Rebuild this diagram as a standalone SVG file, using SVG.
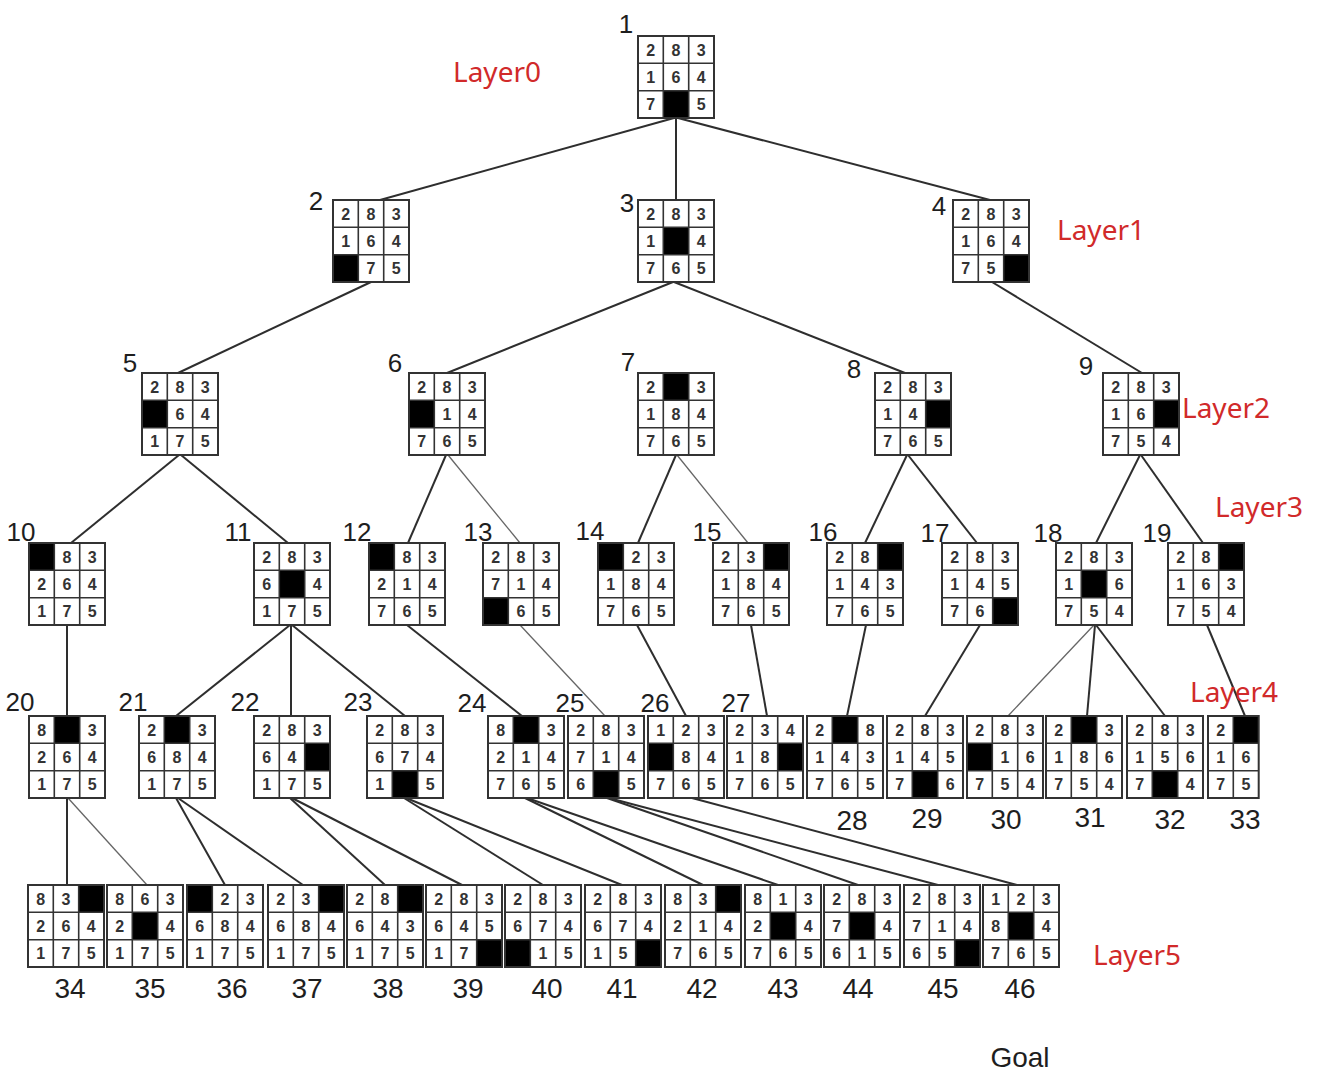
<svg xmlns="http://www.w3.org/2000/svg" xmlns:xlink="http://www.w3.org/1999/xlink" width="1334" height="1080" viewBox="0 0 1334 1080">
  <style>
    .t { font: bold 16px "Liberation Sans", Arial, sans-serif; fill: #333; text-anchor: middle; }
    .lb { font: 26px "Liberation Sans", Arial, sans-serif; fill: #1e1e1e; text-anchor: middle; }
    .lbb { font: 28px "Liberation Sans", Arial, sans-serif; fill: #1e1e1e; text-anchor: middle; }
    .ly { font: 28px "Noto Sans", "Liberation Sans", sans-serif; fill: #d12a2a; text-anchor: middle; }
    .bk { fill: #000; }
    .e { fill: none; stroke: #2e2e2e; stroke-width: 2; }
    .e2 { fill: none; stroke: #666; stroke-width: 1.3; }
  </style>
  <defs>
    <!-- 3x3 puzzle board frame -->
    <g id="grid" fill="none" stroke="#333">
      <rect x="0" y="0" width="76" height="82" stroke-width="2"/>
      <path d="M25.3 0V82M50.7 0V82M0 27.3H76M0 54.7H76" stroke-width="1.6"/>
    </g>
    <!-- narrow 2-column board frame -->
    <g id="grid2" fill="none" stroke="#333">
      <rect x="0" y="0" width="50.7" height="82" stroke-width="2"/>
      <path d="M25.3 0V82M0 27.3H50.7M0 54.7H50.7" stroke-width="1.6"/>
    </g>
  </defs>
  <rect width="1334" height="1080" fill="#fff"/>

  <!-- tree edges -->
  <g id="connectors">
    <path class="e" d="M674 118L380 200"/>
    <path class="e" d="M676 118V200"/>
    <path class="e" d="M678 118L990 200"/>
    <path class="e" d="M371 282L178 373"/>
    <path class="e" d="M673 282L447 373"/>
    <path class="e" d="M674 282L905 373"/>
    <path class="e" d="M992 282L1142 373"/>
    <path class="e" d="M179 455L71 543"/>
    <path class="e" d="M181 455L288 543"/>
    <path class="e" d="M446 455L408 543"/>
    <path class="e2" d="M448 455L520 543"/>
    <path class="e" d="M676 455L638 543"/>
    <path class="e2" d="M677 455L748 543"/>
    <path class="e" d="M907 455L865 543"/>
    <path class="e" d="M908 455L977 543"/>
    <path class="e" d="M1140 455L1096 543"/>
    <path class="e" d="M1141 455L1203 543"/>
    <path class="e" d="M67 625V716"/>
    <path class="e" d="M290 625L176 716"/>
    <path class="e" d="M291 625V716"/>
    <path class="e" d="M292 625L405 716"/>
    <path class="e" d="M407 625L522 716"/>
    <path class="e2" d="M520 625L605 716"/>
    <path class="e" d="M637 625L686 716"/>
    <path class="e" d="M751 625L767 716"/>
    <path class="e" d="M866 625L847 716"/>
    <path class="e" d="M980 625L925 716"/>
    <path class="e2" d="M1094 625L1008 716"/>
    <path class="e" d="M1095 625L1087 716"/>
    <path class="e" d="M1096 625L1165 716"/>
    <path class="e" d="M1207 625L1245 716"/>
    <path class="e" d="M67 798V885"/>
    <path class="e2" d="M68 798L147 885"/>
    <path class="e" d="M176 798L225 885"/>
    <path class="e" d="M178 798L303 885"/>
    <path class="e" d="M290 798L385 885"/>
    <path class="e" d="M292 798L462 885"/>
    <path class="e" d="M404 798L543 885"/>
    <path class="e" d="M406 798L622 885"/>
    <path class="e" d="M525 798L703 885"/>
    <path class="e" d="M527 798L778 885"/>
    <path class="e" d="M607 798L858 885"/>
    <path class="e" d="M609 798L938 885"/>
    <path class="e" d="M692 798L1017 885"/>
  </g>

  <!-- layer captions -->
  <g id="layers">
    <text class="ly" x="497" y="82">Layer0</text>
    <text class="ly" x="1101" y="240">Layer1</text>
    <text class="ly" x="1226" y="418">Layer2</text>
    <text class="ly" x="1259" y="517">Layer3</text>
    <text class="ly" x="1234" y="702">Layer4</text>
    <text class="ly" x="1137" y="965">Layer5</text>
  </g>

  <!-- level 0 -->
  <g id="n1" transform="translate(638,36)">
    <text class="lb" x="-12" y="-3">1</text>
    <rect class="bk" x="25.3" y="54.7" width="25.4" height="27.3"/>
    <text class="t" x="12.7 38 63.3" y="19.5">283</text>
    <text class="t" x="12.7 38 63.3" y="46.8">164</text>
    <text class="t" x="12.7 63.3" y="74.1">75</text>
    <use xlink:href="#grid"/>
  </g>

  <!-- level 1 -->
  <g id="n2" transform="translate(333,200)">
    <text class="lb" x="-17" y="10">2</text>
    <rect class="bk" x="0" y="54.7" width="25.4" height="27.3"/>
    <text class="t" x="12.7 38 63.3" y="19.5">283</text>
    <text class="t" x="12.7 38 63.3" y="46.8">164</text>
    <text class="t" x="38 63.3" y="74.1">75</text>
    <use xlink:href="#grid"/>
  </g>
  <g id="n3" transform="translate(638,200)">
    <text class="lb" x="-11" y="12">3</text>
    <rect class="bk" x="25.3" y="27.3" width="25.4" height="27.4"/>
    <text class="t" x="12.7 38 63.3" y="19.5">283</text>
    <text class="t" x="12.7 63.3" y="46.8">14</text>
    <text class="t" x="12.7 38 63.3" y="74.1">765</text>
    <use xlink:href="#grid"/>
  </g>
  <g id="n4" transform="translate(953,200)">
    <text class="lb" x="-14" y="15">4</text>
    <rect class="bk" x="50.7" y="54.7" width="25.3" height="27.3"/>
    <text class="t" x="12.7 38 63.3" y="19.5">283</text>
    <text class="t" x="12.7 38 63.3" y="46.8">164</text>
    <text class="t" x="12.7 38" y="74.1">75</text>
    <use xlink:href="#grid"/>
  </g>

  <!-- level 2 -->
  <g id="n5" transform="translate(142,373)">
    <text class="lb" x="-12" y="-1">5</text>
    <rect class="bk" x="0" y="27.3" width="25.4" height="27.4"/>
    <text class="t" x="12.7 38 63.3" y="19.5">283</text>
    <text class="t" x="38 63.3" y="46.8">64</text>
    <text class="t" x="12.7 38 63.3" y="74.1">175</text>
    <use xlink:href="#grid"/>
  </g>
  <g id="n6" transform="translate(409,373)">
    <text class="lb" x="-14" y="-1">6</text>
    <rect class="bk" x="0" y="27.3" width="25.4" height="27.4"/>
    <text class="t" x="12.7 38 63.3" y="19.5">283</text>
    <text class="t" x="38 63.3" y="46.8">14</text>
    <text class="t" x="12.7 38 63.3" y="74.1">765</text>
    <use xlink:href="#grid"/>
  </g>
  <g id="n7" transform="translate(638,373)">
    <text class="lb" x="-10" y="-2">7</text>
    <rect class="bk" x="25.3" y="0" width="25.4" height="27.3"/>
    <text class="t" x="12.7 63.3" y="19.5">23</text>
    <text class="t" x="12.7 38 63.3" y="46.8">184</text>
    <text class="t" x="12.7 38 63.3" y="74.1">765</text>
    <use xlink:href="#grid"/>
  </g>
  <g id="n8" transform="translate(875,373)">
    <text class="lb" x="-21" y="5">8</text>
    <rect class="bk" x="50.7" y="27.3" width="25.3" height="27.4"/>
    <text class="t" x="12.7 38 63.3" y="19.5">283</text>
    <text class="t" x="12.7 38" y="46.8">14</text>
    <text class="t" x="12.7 38 63.3" y="74.1">765</text>
    <use xlink:href="#grid"/>
  </g>
  <g id="n9" transform="translate(1103,373)">
    <text class="lb" x="-17" y="2">9</text>
    <rect class="bk" x="50.7" y="27.3" width="25.3" height="27.4"/>
    <text class="t" x="12.7 38 63.3" y="19.5">283</text>
    <text class="t" x="12.7 38" y="46.8">16</text>
    <text class="t" x="12.7 38 63.3" y="74.1">754</text>
    <use xlink:href="#grid"/>
  </g>

  <!-- level 3 -->
  <g id="n10" transform="translate(29,543)">
    <text class="lb" x="-8" y="-2">10</text>
    <rect class="bk" x="0" y="0" width="25.4" height="27.3"/>
    <text class="t" x="38 63.3" y="19.5">83</text>
    <text class="t" x="12.7 38 63.3" y="46.8">264</text>
    <text class="t" x="12.7 38 63.3" y="74.1">175</text>
    <use xlink:href="#grid"/>
  </g>
  <g id="n11" transform="translate(254,543)">
    <text class="lb" x="-16" y="-2">11</text>
    <rect class="bk" x="25.3" y="27.3" width="25.4" height="27.4"/>
    <text class="t" x="12.7 38 63.3" y="19.5">283</text>
    <text class="t" x="12.7 63.3" y="46.8">64</text>
    <text class="t" x="12.7 38 63.3" y="74.1">175</text>
    <use xlink:href="#grid"/>
  </g>
  <g id="n12" transform="translate(369,543)">
    <text class="lb" x="-12" y="-2">12</text>
    <rect class="bk" x="0" y="0" width="25.4" height="27.3"/>
    <text class="t" x="38 63.3" y="19.5">83</text>
    <text class="t" x="12.7 38 63.3" y="46.8">214</text>
    <text class="t" x="12.7 38 63.3" y="74.1">765</text>
    <use xlink:href="#grid"/>
  </g>
  <g id="n13" transform="translate(483,543)">
    <text class="lb" x="-5" y="-2">13</text>
    <rect class="bk" x="0" y="54.7" width="25.4" height="27.3"/>
    <text class="t" x="12.7 38 63.3" y="19.5">283</text>
    <text class="t" x="12.7 38 63.3" y="46.8">714</text>
    <text class="t" x="38 63.3" y="74.1">65</text>
    <use xlink:href="#grid"/>
  </g>
  <g id="n14" transform="translate(598,543)">
    <text class="lb" x="-8" y="-3">14</text>
    <rect class="bk" x="0" y="0" width="25.4" height="27.3"/>
    <text class="t" x="38 63.3" y="19.5">23</text>
    <text class="t" x="12.7 38 63.3" y="46.8">184</text>
    <text class="t" x="12.7 38 63.3" y="74.1">765</text>
    <use xlink:href="#grid"/>
  </g>
  <g id="n15" transform="translate(713,543)">
    <text class="lb" x="-6" y="-2">15</text>
    <rect class="bk" x="50.7" y="0" width="25.3" height="27.3"/>
    <text class="t" x="12.7 38" y="19.5">23</text>
    <text class="t" x="12.7 38 63.3" y="46.8">184</text>
    <text class="t" x="12.7 38 63.3" y="74.1">765</text>
    <use xlink:href="#grid"/>
  </g>
  <g id="n16" transform="translate(827,543)">
    <text class="lb" x="-4" y="-2">16</text>
    <rect class="bk" x="50.7" y="0" width="25.3" height="27.3"/>
    <text class="t" x="12.7 38" y="19.5">28</text>
    <text class="t" x="12.7 38 63.3" y="46.8">143</text>
    <text class="t" x="12.7 38 63.3" y="74.1">765</text>
    <use xlink:href="#grid"/>
  </g>
  <g id="n17" transform="translate(942,543)">
    <text class="lb" x="-7" y="-1">17</text>
    <rect class="bk" x="50.7" y="54.7" width="25.3" height="27.3"/>
    <text class="t" x="12.7 38 63.3" y="19.5">283</text>
    <text class="t" x="12.7 38 63.3" y="46.8">145</text>
    <text class="t" x="12.7 38" y="74.1">76</text>
    <use xlink:href="#grid"/>
  </g>
  <g id="n18" transform="translate(1056,543)">
    <text class="lb" x="-8" y="-1">18</text>
    <rect class="bk" x="25.3" y="27.3" width="25.4" height="27.4"/>
    <text class="t" x="12.7 38 63.3" y="19.5">283</text>
    <text class="t" x="12.7 63.3" y="46.8">16</text>
    <text class="t" x="12.7 38 63.3" y="74.1">754</text>
    <use xlink:href="#grid"/>
  </g>
  <g id="n19" transform="translate(1168,543)">
    <text class="lb" x="-11" y="-1">19</text>
    <rect class="bk" x="50.7" y="0" width="25.3" height="27.3"/>
    <text class="t" x="12.7 38" y="19.5">28</text>
    <text class="t" x="12.7 38 63.3" y="46.8">163</text>
    <text class="t" x="12.7 38 63.3" y="74.1">754</text>
    <use xlink:href="#grid"/>
  </g>

  <!-- level 4 -->
  <g id="n20" transform="translate(29,716)">
    <text class="lb" x="-9" y="-5">20</text>
    <rect class="bk" x="25.3" y="0" width="25.4" height="27.3"/>
    <text class="t" x="12.7 63.3" y="19.5">83</text>
    <text class="t" x="12.7 38 63.3" y="46.8">264</text>
    <text class="t" x="12.7 38 63.3" y="74.1">175</text>
    <use xlink:href="#grid"/>
  </g>
  <g id="n21" transform="translate(139,716)">
    <text class="lb" x="-6" y="-5">21</text>
    <rect class="bk" x="25.3" y="0" width="25.4" height="27.3"/>
    <text class="t" x="12.7 63.3" y="19.5">23</text>
    <text class="t" x="12.7 38 63.3" y="46.8">684</text>
    <text class="t" x="12.7 38 63.3" y="74.1">175</text>
    <use xlink:href="#grid"/>
  </g>
  <g id="n22" transform="translate(254,716)">
    <text class="lb" x="-9" y="-5">22</text>
    <rect class="bk" x="50.7" y="27.3" width="25.3" height="27.4"/>
    <text class="t" x="12.7 38 63.3" y="19.5">283</text>
    <text class="t" x="12.7 38" y="46.8">64</text>
    <text class="t" x="12.7 38 63.3" y="74.1">175</text>
    <use xlink:href="#grid"/>
  </g>
  <g id="n23" transform="translate(367,716)">
    <text class="lb" x="-9" y="-5">23</text>
    <rect class="bk" x="25.3" y="54.7" width="25.4" height="27.3"/>
    <text class="t" x="12.7 38 63.3" y="19.5">283</text>
    <text class="t" x="12.7 38 63.3" y="46.8">674</text>
    <text class="t" x="12.7 63.3" y="74.1">15</text>
    <use xlink:href="#grid"/>
  </g>
  <g id="n24" transform="translate(488,716)">
    <text class="lb" x="-16" y="-4">24</text>
    <rect class="bk" x="25.3" y="0" width="25.4" height="27.3"/>
    <text class="t" x="12.7 63.3" y="19.5">83</text>
    <text class="t" x="12.7 38 63.3" y="46.8">214</text>
    <text class="t" x="12.7 38 63.3" y="74.1">765</text>
    <use xlink:href="#grid"/>
  </g>
  <g id="n25" transform="translate(568,716)">
    <text class="lb" x="2" y="-4">25</text>
    <rect class="bk" x="25.3" y="54.7" width="25.4" height="27.3"/>
    <text class="t" x="12.7 38 63.3" y="19.5">283</text>
    <text class="t" x="12.7 38 63.3" y="46.8">714</text>
    <text class="t" x="12.7 63.3" y="74.1">65</text>
    <use xlink:href="#grid"/>
  </g>
  <g id="n26" transform="translate(648,716)">
    <text class="lb" x="7" y="-4">26</text>
    <rect class="bk" x="0" y="27.3" width="25.4" height="27.4"/>
    <text class="t" x="12.7 38 63.3" y="19.5">123</text>
    <text class="t" x="38 63.3" y="46.8">84</text>
    <text class="t" x="12.7 38 63.3" y="74.1">765</text>
    <use xlink:href="#grid"/>
  </g>
  <g id="n27" transform="translate(727,716)">
    <text class="lb" x="9" y="-4">27</text>
    <rect class="bk" x="50.7" y="27.3" width="25.3" height="27.4"/>
    <text class="t" x="12.7 38 63.3" y="19.5">234</text>
    <text class="t" x="12.7 38" y="46.8">18</text>
    <text class="t" x="12.7 38 63.3" y="74.1">765</text>
    <use xlink:href="#grid"/>
  </g>
  <g id="n28" transform="translate(807,716)">
    <text class="lbb" x="45" y="114">28</text>
    <rect class="bk" x="25.3" y="0" width="25.4" height="27.3"/>
    <text class="t" x="12.7 63.3" y="19.5">28</text>
    <text class="t" x="12.7 38 63.3" y="46.8">143</text>
    <text class="t" x="12.7 38 63.3" y="74.1">765</text>
    <use xlink:href="#grid"/>
  </g>
  <g id="n29" transform="translate(887,716)">
    <text class="lbb" x="40" y="112">29</text>
    <rect class="bk" x="25.3" y="54.7" width="25.4" height="27.3"/>
    <text class="t" x="12.7 38 63.3" y="19.5">283</text>
    <text class="t" x="12.7 38 63.3" y="46.8">145</text>
    <text class="t" x="12.7 63.3" y="74.1">76</text>
    <use xlink:href="#grid"/>
  </g>
  <g id="n30" transform="translate(967,716)">
    <text class="lbb" x="39" y="113">30</text>
    <rect class="bk" x="0" y="27.3" width="25.4" height="27.4"/>
    <text class="t" x="12.7 38 63.3" y="19.5">283</text>
    <text class="t" x="38 63.3" y="46.8">16</text>
    <text class="t" x="12.7 38 63.3" y="74.1">754</text>
    <use xlink:href="#grid"/>
  </g>
  <g id="n31" transform="translate(1046,716)">
    <text class="lbb" x="44" y="111">31</text>
    <rect class="bk" x="25.3" y="0" width="25.4" height="27.3"/>
    <text class="t" x="12.7 63.3" y="19.5">23</text>
    <text class="t" x="12.7 38 63.3" y="46.8">186</text>
    <text class="t" x="12.7 38 63.3" y="74.1">754</text>
    <use xlink:href="#grid"/>
  </g>
  <g id="n32" transform="translate(1127,716)">
    <text class="lbb" x="43" y="113">32</text>
    <rect class="bk" x="25.3" y="54.7" width="25.4" height="27.3"/>
    <text class="t" x="12.7 38 63.3" y="19.5">283</text>
    <text class="t" x="12.7 38 63.3" y="46.8">156</text>
    <text class="t" x="12.7 63.3" y="74.1">74</text>
    <use xlink:href="#grid"/>
  </g>
  <g id="n33" transform="translate(1208,716)">
    <text class="lbb" x="37" y="113">33</text>
    <rect class="bk" x="25.3" y="0" width="25.4" height="27.3"/>
    <text class="t" x="12.7" y="19.5">2</text>
    <text class="t" x="12.7 38" y="46.8">16</text>
    <text class="t" x="12.7 38" y="74.1">75</text>
    <use xlink:href="#grid2"/>
  </g>

  <!-- level 5 -->
  <g id="n34" transform="translate(28,885)">
    <text class="lbb" x="42" y="113">34</text>
    <rect class="bk" x="50.7" y="0" width="25.3" height="27.3"/>
    <text class="t" x="12.7 38" y="19.5">83</text>
    <text class="t" x="12.7 38 63.3" y="46.8">264</text>
    <text class="t" x="12.7 38 63.3" y="74.1">175</text>
    <use xlink:href="#grid"/>
  </g>
  <g id="n35" transform="translate(107,885)">
    <text class="lbb" x="43" y="113">35</text>
    <rect class="bk" x="25.3" y="27.3" width="25.4" height="27.4"/>
    <text class="t" x="12.7 38 63.3" y="19.5">863</text>
    <text class="t" x="12.7 63.3" y="46.8">24</text>
    <text class="t" x="12.7 38 63.3" y="74.1">175</text>
    <use xlink:href="#grid"/>
  </g>
  <g id="n36" transform="translate(187,885)">
    <text class="lbb" x="45" y="113">36</text>
    <rect class="bk" x="0" y="0" width="25.4" height="27.3"/>
    <text class="t" x="38 63.3" y="19.5">23</text>
    <text class="t" x="12.7 38 63.3" y="46.8">684</text>
    <text class="t" x="12.7 38 63.3" y="74.1">175</text>
    <use xlink:href="#grid"/>
  </g>
  <g id="n37" transform="translate(268,885)">
    <text class="lbb" x="39" y="113">37</text>
    <rect class="bk" x="50.7" y="0" width="25.3" height="27.3"/>
    <text class="t" x="12.7 38" y="19.5">23</text>
    <text class="t" x="12.7 38 63.3" y="46.8">684</text>
    <text class="t" x="12.7 38 63.3" y="74.1">175</text>
    <use xlink:href="#grid"/>
  </g>
  <g id="n38" transform="translate(347,885)">
    <text class="lbb" x="41" y="113">38</text>
    <rect class="bk" x="50.7" y="0" width="25.3" height="27.3"/>
    <text class="t" x="12.7 38" y="19.5">28</text>
    <text class="t" x="12.7 38 63.3" y="46.8">643</text>
    <text class="t" x="12.7 38 63.3" y="74.1">175</text>
    <use xlink:href="#grid"/>
  </g>
  <g id="n39" transform="translate(426,885)">
    <text class="lbb" x="42" y="113">39</text>
    <rect class="bk" x="50.7" y="54.7" width="25.3" height="27.3"/>
    <text class="t" x="12.7 38 63.3" y="19.5">283</text>
    <text class="t" x="12.7 38 63.3" y="46.8">645</text>
    <text class="t" x="12.7 38" y="74.1">17</text>
    <use xlink:href="#grid"/>
  </g>
  <g id="n40" transform="translate(505,885)">
    <text class="lbb" x="42" y="113">40</text>
    <rect class="bk" x="0" y="54.7" width="25.4" height="27.3"/>
    <text class="t" x="12.7 38 63.3" y="19.5">283</text>
    <text class="t" x="12.7 38 63.3" y="46.8">674</text>
    <text class="t" x="38 63.3" y="74.1">15</text>
    <use xlink:href="#grid"/>
  </g>
  <g id="n41" transform="translate(585,885)">
    <text class="lbb" x="37" y="113">41</text>
    <rect class="bk" x="50.7" y="54.7" width="25.3" height="27.3"/>
    <text class="t" x="12.7 38 63.3" y="19.5">283</text>
    <text class="t" x="12.7 38 63.3" y="46.8">674</text>
    <text class="t" x="12.7 38" y="74.1">15</text>
    <use xlink:href="#grid"/>
  </g>
  <g id="n42" transform="translate(665,885)">
    <text class="lbb" x="37" y="113">42</text>
    <rect class="bk" x="50.7" y="0" width="25.3" height="27.3"/>
    <text class="t" x="12.7 38" y="19.5">83</text>
    <text class="t" x="12.7 38 63.3" y="46.8">214</text>
    <text class="t" x="12.7 38 63.3" y="74.1">765</text>
    <use xlink:href="#grid"/>
  </g>
  <g id="n43" transform="translate(745,885)">
    <text class="lbb" x="38" y="113">43</text>
    <rect class="bk" x="25.3" y="27.3" width="25.4" height="27.4"/>
    <text class="t" x="12.7 38 63.3" y="19.5">813</text>
    <text class="t" x="12.7 63.3" y="46.8">24</text>
    <text class="t" x="12.7 38 63.3" y="74.1">765</text>
    <use xlink:href="#grid"/>
  </g>
  <g id="n44" transform="translate(824,885)">
    <text class="lbb" x="34" y="113">44</text>
    <rect class="bk" x="25.3" y="27.3" width="25.4" height="27.4"/>
    <text class="t" x="12.7 38 63.3" y="19.5">283</text>
    <text class="t" x="12.7 63.3" y="46.8">74</text>
    <text class="t" x="12.7 38 63.3" y="74.1">615</text>
    <use xlink:href="#grid"/>
  </g>
  <g id="n45" transform="translate(904,885)">
    <text class="lbb" x="39" y="113">45</text>
    <rect class="bk" x="50.7" y="54.7" width="25.3" height="27.3"/>
    <text class="t" x="12.7 38 63.3" y="19.5">283</text>
    <text class="t" x="12.7 38 63.3" y="46.8">714</text>
    <text class="t" x="12.7 38" y="74.1">65</text>
    <use xlink:href="#grid"/>
  </g>
  <g id="n46" transform="translate(983,885)">
    <text class="lbb" x="37" y="113">46</text>
    <rect class="bk" x="25.3" y="27.3" width="25.4" height="27.4"/>
    <text class="t" x="12.7 38 63.3" y="19.5">123</text>
    <text class="t" x="12.7 63.3" y="46.8">84</text>
    <text class="t" x="12.7 38 63.3" y="74.1">765</text>
    <use xlink:href="#grid"/>
  </g>

  <text class="lbb" x="1020" y="1067">Goal</text>
</svg>
